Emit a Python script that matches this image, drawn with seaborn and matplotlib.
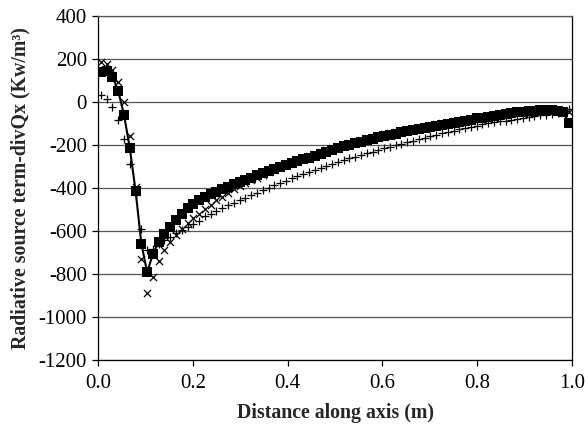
import numpy as np
import pandas as pd
import matplotlib
matplotlib.use("Agg")
import matplotlib.pyplot as plt
import seaborn as sns

x_pos = [0.0061, 0.0183, 0.0305, 0.0427, 0.0549, 0.0671, 0.0793, 0.0915, 0.1037, 0.1159,
         0.1280, 0.1402, 0.1524, 0.1646, 0.1768, 0.1890, 0.2012, 0.2134, 0.2256, 0.2378,
         0.2500, 0.2622, 0.2744, 0.2866, 0.2988, 0.3110, 0.3232, 0.3354, 0.3476, 0.3598,
         0.3720, 0.3841, 0.3963, 0.4085, 0.4207, 0.4329, 0.4451, 0.4573, 0.4695, 0.4817,
         0.4939, 0.5061, 0.5183, 0.5305, 0.5427, 0.5549, 0.5671, 0.5793, 0.5915, 0.6037,
         0.6159, 0.6280, 0.6402, 0.6524, 0.6646, 0.6768, 0.6890, 0.7012, 0.7134, 0.7256,
         0.7378, 0.7500, 0.7622, 0.7744, 0.7866, 0.7988, 0.8110, 0.8232, 0.8354, 0.8476,
         0.8598, 0.8720, 0.8841, 0.8963, 0.9085, 0.9207, 0.9329, 0.9451, 0.9573, 0.9695,
         0.9817, 0.9939]

# series drawn as filled squares with a line
squares = [143, 148, 120, 53, -58, -213, -412, -658, -792, -706,
           -652, -613, -580, -547, -519, -494, -472, -456, -441, -428,
           -416, -405, -393, -381, -370, -360, -350, -340, -330, -320,
           -311, -302, -293, -284, -275, -266, -257, -248, -239, -230,
           -221, -212, -204, -197, -190, -183, -176, -169, -162, -156,
           -150, -145, -140, -135, -130, -125, -120, -115, -110, -105,
           -100, -95, -90, -85, -80, -75, -71, -66, -62, -58,
           -54, -50, -47, -44, -41, -39, -37, -36, -36, -39,
           -47, -95]

# series drawn as x markers
crosses = [187, 178, 151, 94, 1, -156, -392, -729, -887, -812,
           -740, -688, -648, -618, -590, -563, -540, -518, -497, -476,
           -457, -439, -422, -405, -390, -376, -363, -350, -337, -325,
           -313, -302, -291, -279, -270, -261, -251, -242, -233, -224,
           -214, -206, -198, -190, -183, -176, -169, -162, -155, -149,
           -143, -138, -133, -128, -123, -118, -113, -108, -103, -98,
           -94, -89, -85, -81, -77, -73, -69, -65, -61, -57,
           -53, -50, -47, -44, -41, -39, -37, -36, -36, -37,
           -40, -45]

# series drawn as + markers
pluses = [35, 15, -20, -81, -170, -286, -430, -590, -686, -683,
          -660, -643, -626, -610, -595, -580, -566, -552, -531, -518,
          -505, -492, -480, -468, -456, -444, -432, -420, -409, -398,
          -387, -376, -365, -354, -344, -334, -324, -314, -304, -295,
          -286, -277, -269, -261, -253, -245, -237, -229, -221, -214,
          -207, -200, -193, -186, -179, -172, -165, -158, -151, -144,
          -137, -131, -125, -119, -113, -108, -103, -98, -93, -89,
          -85, -81, -77, -73, -69, -65, -61, -57, -53, -48,
          -42, -32]

x_ticks = [0.0, 0.2, 0.4, 0.6, 0.8, 1.0]
y_ticks = [-1200, -1000, -800, -600, -400, -200, 0, 200, 400]

df = pd.DataFrame({"x": x_pos, "sq": squares, "cr": crosses, "pl": pluses})

sns.set_style("white")
plt.rcParams["font.family"] = ["Liberation Serif", "DejaVu Serif"]

fig = plt.figure(figsize=(5.85, 4.24), dpi=100)
ax = fig.add_axes([0.1675, 0.1509, 0.8103, 0.8102])

for y in y_ticks:
    ax.axhline(y, color="#555555", lw=0.9, zorder=0)

sns.scatterplot(data=df, x="x", y="pl", marker="+", s=34, color="black",
                linewidth=0.9, ax=ax, zorder=2)
sns.scatterplot(data=df, x="x", y="cr", marker="x", s=26, color="black",
                linewidth=0.9, ax=ax, zorder=2)
sns.lineplot(data=df, x="x", y="sq", color="black", marker="s", markersize=6.9,
             markeredgewidth=0, linewidth=1.5, ax=ax, zorder=3)

ax.set_xlim(0, 1.0)
ax.set_ylim(-1200, 400)
ax.set_xticks(x_ticks)
ax.set_xticklabels([f"{v:.1f}" for v in x_ticks])
ax.set_yticks(y_ticks)
ax.set_yticklabels([str(v) for v in y_ticks])
ax.tick_params(axis="both", direction="out", length=4, width=0.9, labelsize=15,
               colors="black", left=True, bottom=True)
ax.tick_params(axis="y", pad=4)
ax.tick_params(axis="x", pad=6)
for sp in ax.spines.values():
    sp.set_visible(True)
    sp.set_color("black")
    sp.set_linewidth(0.9)
ax.spines["top"].set_color("#555555")

ax.set_xlabel("Distance along axis (m)", fontsize=14.3, fontweight="bold", labelpad=7)
ax.set_ylabel("Radiative source term-divQx (Kw/m³)", fontsize=14.3, fontweight="bold", labelpad=6)

fig.savefig("out.png", dpi=100)
